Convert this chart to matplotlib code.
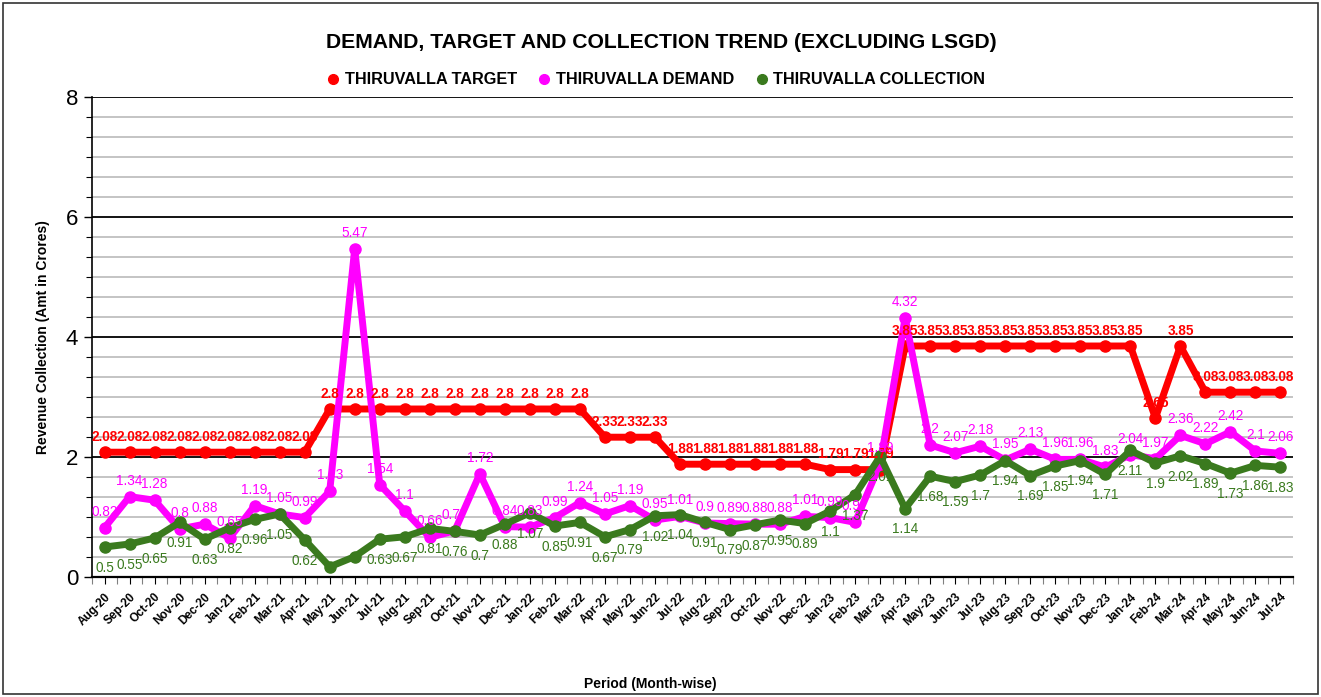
import matplotlib
matplotlib.use("Agg")
import matplotlib.pyplot as plt
from matplotlib.lines import Line2D
from matplotlib.patches import Rectangle
from matplotlib.ticker import MultipleLocator, FixedLocator

plt.rcParams['font.family'] = ['Liberation Sans', 'DejaVu Sans']

months = ["Aug-20", "Sep-20", "Oct-20", "Nov-20", "Dec-20",
          "Jan-21", "Feb-21", "Mar-21", "Apr-21", "May-21", "Jun-21", "Jul-21",
          "Aug-21", "Sep-21", "Oct-21", "Nov-21", "Dec-21",
          "Jan-22", "Feb-22", "Mar-22", "Apr-22", "May-22", "Jun-22", "Jul-22",
          "Aug-22", "Sep-22", "Oct-22", "Nov-22", "Dec-22",
          "Jan-23", "Feb-23", "Mar-23", "Apr-23", "May-23", "Jun-23", "Jul-23",
          "Aug-23", "Sep-23", "Oct-23", "Nov-23", "Dec-23",
          "Jan-24", "Feb-24", "Mar-24", "Apr-24", "May-24", "Jun-24", "Jul-24"]

target = [2.08, 2.08, 2.08, 2.08, 2.08, 2.08, 2.08, 2.08, 2.08,
          2.8, 2.8, 2.8, 2.8, 2.8, 2.8, 2.8, 2.8, 2.8, 2.8, 2.8,
          2.33, 2.33, 2.33,
          1.88, 1.88, 1.88, 1.88, 1.88, 1.88,
          1.79, 1.79, 1.79,
          3.85, 3.85, 3.85, 3.85, 3.85, 3.85, 3.85, 3.85, 3.85, 3.85,
          2.65, 3.85, 3.08, 3.08, 3.08, 3.08]

demand = [0.82, 1.34, 1.28, 0.8, 0.88,
          0.65, 1.19, 1.05, 0.99, 1.43, 5.47, 1.54, 1.1, 0.66, 0.77, 1.72, 0.84,
          0.83, 0.99, 1.24, 1.05, 1.19, 0.95, 1.01, 0.9, 0.89, 0.88, 0.88, 1.01,
          0.99, 0.91, 1.89, 4.32, 2.2, 2.07, 2.18, 1.95, 2.13, 1.96, 1.96, 1.83,
          2.04, 1.97, 2.36, 2.22, 2.42, 2.1, 2.06]

collection = [0.5, 0.55, 0.65, 0.91, 0.63,
              0.82, 0.96, 1.05, 0.62, 0.17, 0.34, 0.63, 0.67, 0.81, 0.76, 0.7, 0.88,
              1.07, 0.85, 0.91, 0.67, 0.79, 1.02, 1.04, 0.91, 0.79, 0.87, 0.95, 0.89,
              1.1, 1.37, 2.01, 1.14, 1.68, 1.59, 1.7, 1.94, 1.69, 1.85, 1.94, 1.71,
              2.11, 1.9, 2.02, 1.89, 1.73, 1.86, 1.83]

# collection labels not shown in the reference for these months
collection_hidden = ["May-21", "Jun-21"]

RED = "#ff0000"
PINK = "#ff00ff"
GREEN = "#3a7a1e"

W, H = 1321, 697
fig = plt.figure(figsize=(W / 100, H / 100), dpi=100)
ax = fig.add_axes([92 / W, 1 - 577 / H, 1201 / W, 480 / H])

x = list(range(len(months)))

ax.plot(x, target, color=RED, lw=5, marker="o", ms=8, zorder=3, solid_joinstyle="round")
ax.plot(x, demand, color=PINK, lw=5, marker="o", ms=8, zorder=4, solid_joinstyle="round")
ax.plot(x, collection, color=GREEN, lw=5, marker="o", ms=8, zorder=5, solid_joinstyle="round")

def fmt(v):
    s = f"{v:.2f}".rstrip("0").rstrip(".")
    return s

for i, v in enumerate(target):
    ax.annotate(fmt(v), (i, v), xytext=(0, 11), textcoords="offset points",
                ha="center", va="center", color=RED, fontsize=9.8,
                fontweight="bold", zorder=6)
for i, v in enumerate(demand):
    ax.annotate(fmt(v), (i, v), xytext=(0, 11.5), textcoords="offset points",
                ha="center", va="center", color=PINK, fontsize=9.8, zorder=6)
for i, v in enumerate(collection):
    if months[i] in collection_hidden:
        continue
    ax.annotate(fmt(v), (i, v), xytext=(0, -15), textcoords="offset points",
                ha="center", va="center", color=GREEN, fontsize=9.8, zorder=6)

ax.set_xlim(-0.5, len(months) - 0.5)
ax.set_ylim(0, 8)
ax.yaxis.set_major_locator(MultipleLocator(2))
ax.yaxis.set_minor_locator(MultipleLocator(1 / 3))
ax.grid(axis="y", which="minor", color="#bfbfbf", lw=1.3, zorder=0)
ax.grid(axis="y", which="major", color="#000000", lw=1.3, zorder=0)
ax.set_axisbelow(True)

ax.set_xticks(x)
ax.set_xticklabels(months, rotation=45, ha="right", rotation_mode="anchor",
                   fontsize=8.5, fontweight="bold")
ax.xaxis.set_minor_locator(FixedLocator([i + 0.5 for i in range(-1, len(months))]))
ax.tick_params(axis="x", which="major", length=5, width=0.8, pad=5)
ax.tick_params(axis="x", which="minor", length=5, width=0.8, color="#808080")
ax.tick_params(axis="y", which="major", length=6, width=1, labelsize=16, pad=4)
ax.tick_params(axis="y", which="minor", length=4, width=0.8)

for s in ["top", "right"]:
    ax.spines[s].set_visible(False)
ax.spines["left"].set_linewidth(1.2)
ax.spines["bottom"].set_linewidth(1.6)

ax.set_ylabel("Revenue Collection (Amt in Crores)", fontsize=10, fontweight="bold", labelpad=11)
fig.text(650 / W, 1 - 684 / H, "Period (Month-wise)", ha="center", va="center",
         fontsize=10, fontweight="bold")

fig.text(661 / W, 1 - 42 / H, "DEMAND, TARGET AND COLLECTION TREND (EXCLUDING LSGD)",
         ha="center", va="center", fontsize=15.2, fontweight="bold")

handles = [Line2D([], [], color=c, marker="o", ls="none", ms=7) for c in (RED, PINK, GREEN)]
fig.legend(handles, ["THIRUVALLA TARGET", "THIRUVALLA DEMAND", "THIRUVALLA COLLECTION"],
           loc="center", bbox_to_anchor=(655 / W, 1 - 80 / H), ncol=3, frameon=False,
           prop={"weight": "bold", "size": 11.7}, handletextpad=0.2, columnspacing=1.2,
           handlelength=1.0)

fig.patches.append(Rectangle((3 / W, 3 / H), 1 - 6 / W, 1 - 6 / H, transform=fig.transFigure,
                             fill=False, edgecolor="#333333", lw=1.2))

fig.savefig("out.png", dpi=100)
